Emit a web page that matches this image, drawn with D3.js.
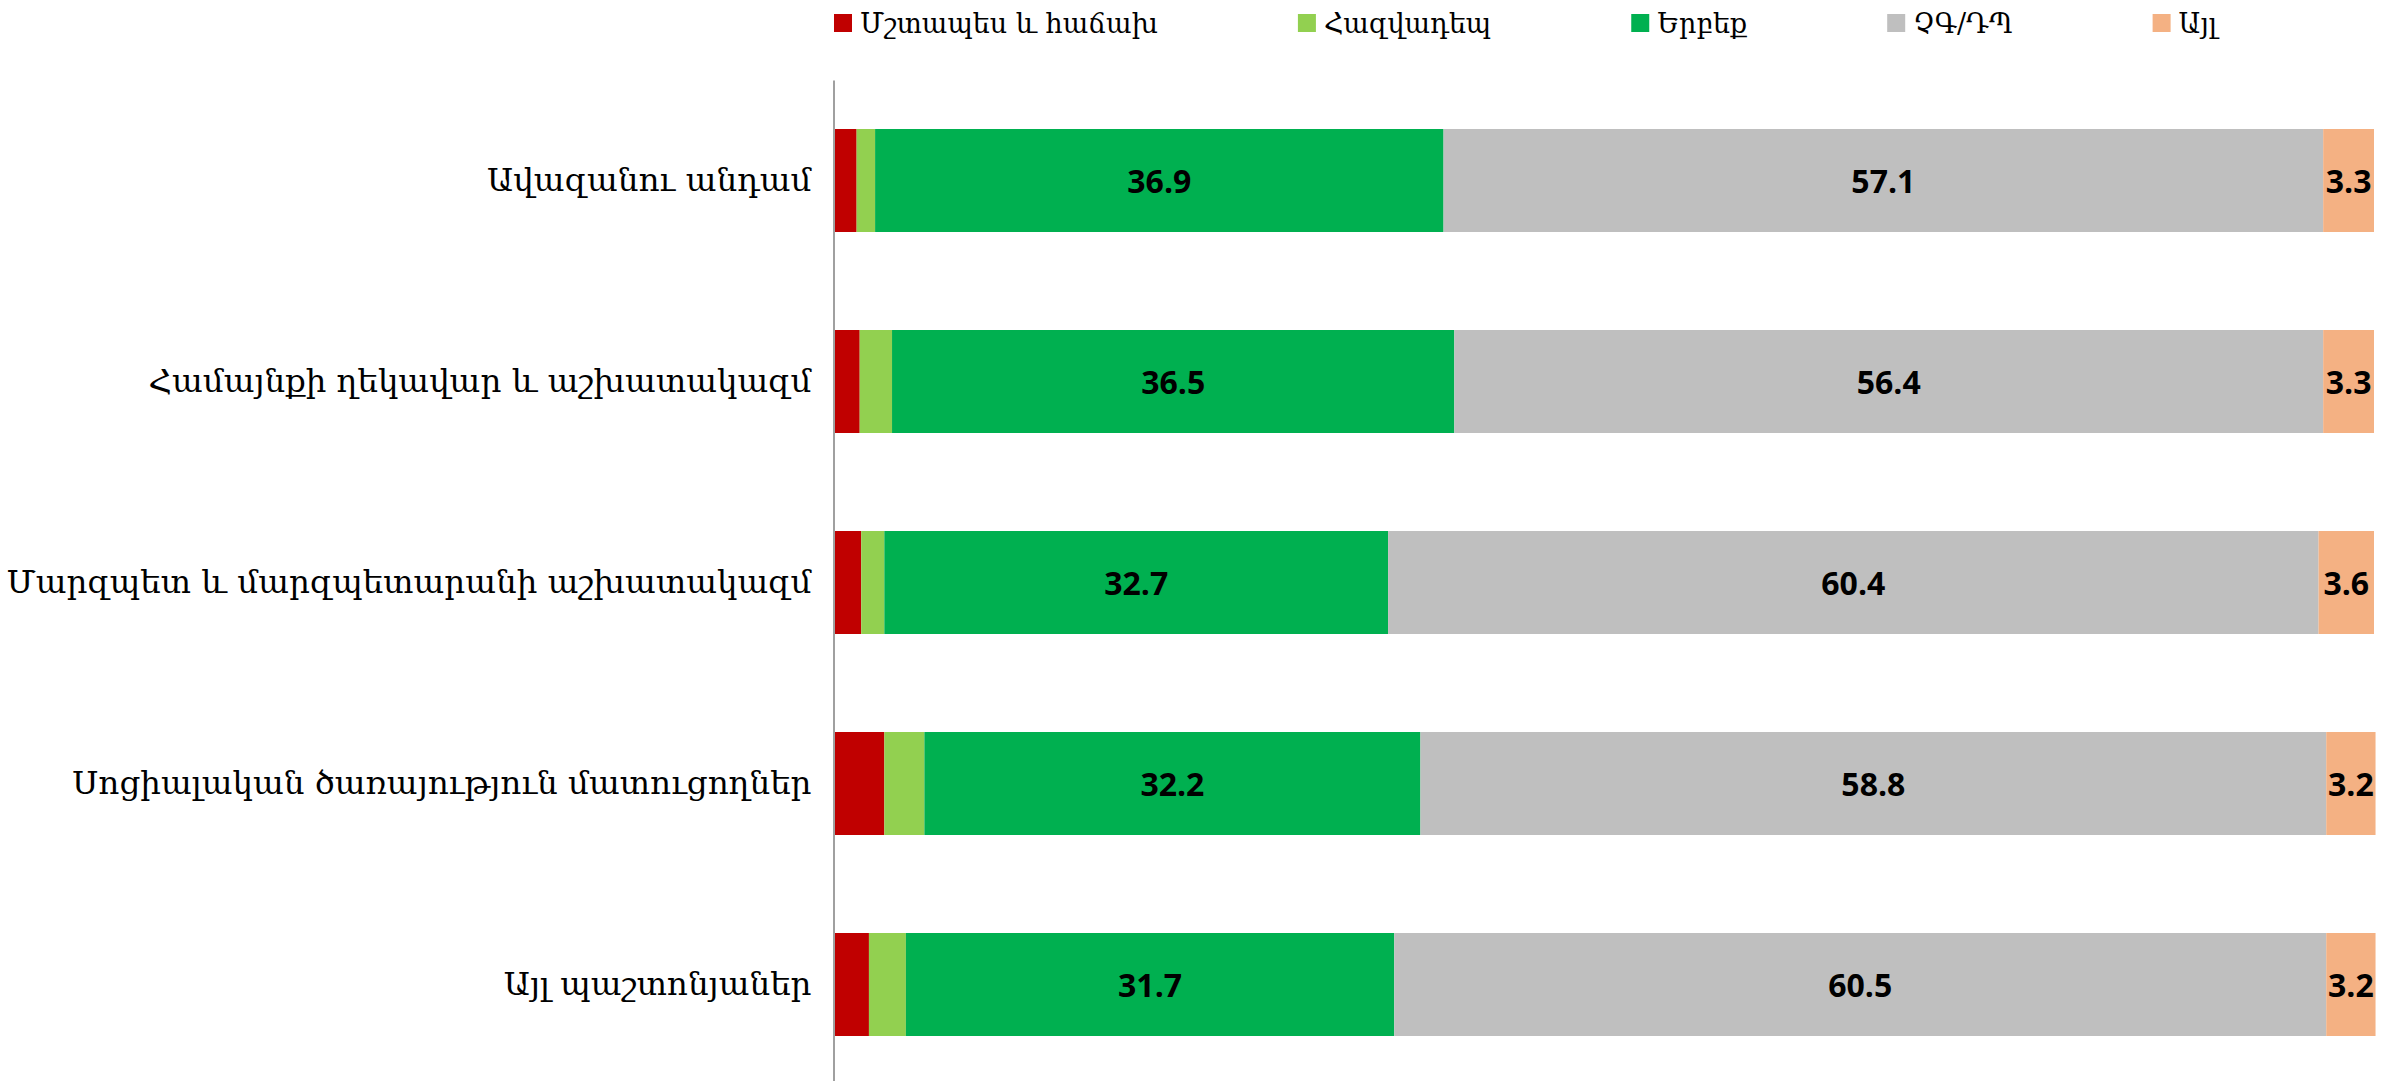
<!DOCTYPE html>
<html><head><meta charset="utf-8">
<script src="https://cdn.jsdelivr.net/npm/d3@7"></script>
<style>
html,body{margin:0;padding:0;background:#fff;}
svg{display:block;}
</style></head>
<body>
<svg id="chart" width="2402" height="1081"></svg>
<script>
const categories = [
  "Ավազանու անդամ",
  "Համայնքի ղեկավար և աշխատակազմ",
  "Մարզպետ և մարզպետարանի աշխատակազմ",
  "Սոցիալական ծառայություն մատուցողներ",
  "Այլ պաշտոնյաներ"
];
const seriesNames = ["Մշտապես և հաճախ", "Հազվադեպ", "Երբեք", "ՉԳ/ԴՊ", "Այլ"];
const often  = [1.5, 1.7, 1.8, 3.3, 2.3];
const rarely = [1.2, 2.1, 1.5, 2.6, 2.4];
const never  = [36.9, 36.5, 32.7, 32.2, 31.7];
const dkna   = [57.1, 56.4, 60.4, 58.8, 60.5];
const other  = [3.3, 3.3, 3.6, 3.2, 3.2];
const labelledSeries = [false, false, true, true, true];
const colors = ["#C00000", "#92D050", "#00B050", "#BFBFBF", "#F4B183"];

const seriesValues = [often, rarely, never, dkna, other];
const table = categories.map((c, i) => {
  const row = {category: c};
  seriesNames.forEach((s, j) => row[s] = seriesValues[j][i]);
  return row;
});

const svg = d3.select("#chart");
const serif = "'DejaVu Serif', 'Noto Serif', serif";
const sans = "'Open Sans', 'Noto Sans', sans-serif";

const x = d3.scaleLinear().domain([0, 100]).range([833.5, 2374]);
const y = d3.scaleBand().domain(categories).range([80, 1085]).paddingInner(0.4876).paddingOuter(0.2438);

const stacked = d3.stack().keys(seriesNames)(table);
const color = d3.scaleOrdinal().domain(seriesNames).range(colors);

const layers = svg.append("g").selectAll("g").data(stacked).join("g")
  .attr("fill", d => color(d.key));

layers.selectAll("rect").data(d => d).join("rect")
  .attr("x", d => x(d[0]))
  .attr("y", d => y(d.data.category))
  .attr("width", d => x(d[1]) - x(d[0]))
  .attr("height", y.bandwidth());

// data labels
stacked.forEach((layer, j) => {
  if (!labelledSeries[j]) return;
  svg.append("g").selectAll("text").data(layer).join("text")
    .attr("x", d => (x(d[0]) + x(d[1])) / 2)
    .attr("y", d => y(d.data.category) + y.bandwidth() / 2)
    .attr("text-anchor", "middle")
    .attr("dominant-baseline", "central")
    .attr("font-family", sans)
    .attr("font-weight", "bold")
    .attr("font-size", 32)
    .attr("fill", "#000")
    .text(d => (d[1] - d[0]).toFixed(1));
});

// category axis
const axis = d3.axisLeft(y).tickSize(0).tickSizeOuter(0).tickPadding(22);
const ag = svg.append("g").attr("transform", `translate(${x(0)},0)`).call(axis);
ag.select(".domain").attr("stroke", "#A0A0A0").attr("stroke-width", 2);
ag.selectAll(".tick text")
  .attr("font-family", serif)
  .attr("font-size", 32.5)
  .attr("fill", "#000");

// legend
const legend = svg.append("g");
let lx = 834;
seriesNames.forEach((s, j) => {
  const g = legend.append("g");
  g.append("rect").attr("x", lx).attr("y", 14).attr("width", 18).attr("height", 18).attr("fill", colors[j]);
  const t = g.append("text").attr("x", lx + 26).attr("y", 23)
    .attr("dominant-baseline", "central")
    .attr("font-family", serif).attr("font-size", 27).attr("fill", "#000").text(s);
  lx += 26 + t.node().getComputedTextLength() + 140;
});
</script>
</body></html>
